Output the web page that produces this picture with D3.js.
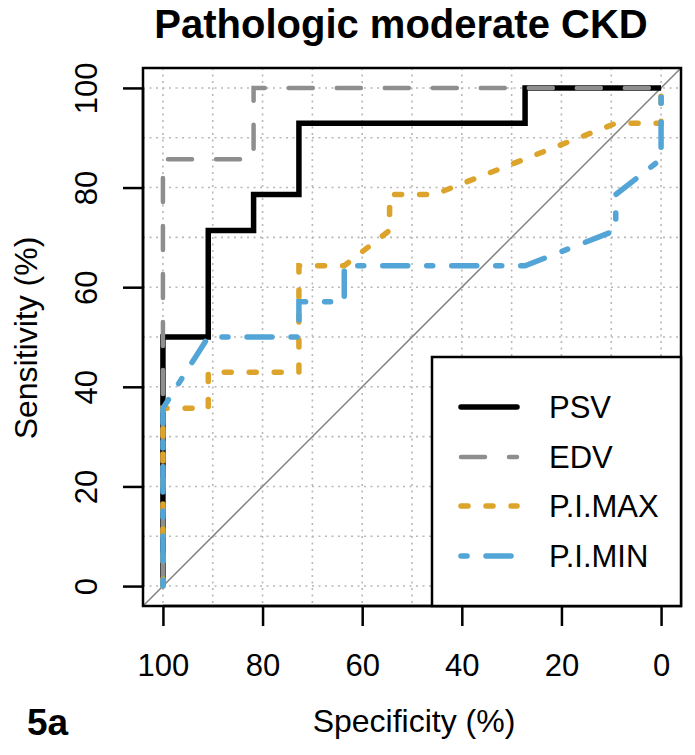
<!DOCTYPE html>
<html>
<head>
<meta charset="utf-8">
<script src="https://cdn.jsdelivr.net/npm/d3@7"></script>
<style>
  html, body { margin: 0; padding: 0; background: #fff; }
  svg { display: block; font-family: "Liberation Sans", Arial, Helvetica, sans-serif; }
</style>
</head>
<body>
<svg id="chart" width="695" height="755"></svg>
<script>
// ---- data (specificity %, sensitivity %) ----
const seriesNames = ["PSV", "EDV", "P.I.MAX", "P.I.MIN"];
const psv = [[100,0],[100,50],[90.9,50],[90.9,71.4],[81.8,71.4],[81.8,78.6],[72.7,78.6],[72.7,92.9],[27.3,92.9],[27.3,100],[0,100]];
const edv = [[100,0],[100,85.7],[81.8,85.7],[81.8,100],[0,100]];
const piMax = [[100,0],[100,35.7],[90.9,35.7],[90.9,42.9],[72.7,42.9],[72.7,64.3],[63.6,64.3],[54.5,71.4],[54.5,78.6],[45.5,78.6],[9.1,92.9],[0,92.9],[0,100]];
const piMin = [[100,0],[100,35.7],[90.9,50],[72.7,50],[72.7,57.1],[63.6,57.1],[63.6,64.3],[27.3,64.3],[9.1,71.4],[9.1,78.6],[0,85.7],[0,100]];
const xTicks = [100, 80, 60, 40, 20, 0];
const yTicks = [0, 20, 40, 60, 80, 100];
const gridValues = [0,10,20,30,40,50,60,70,80,90,100];

const styles = [
  {color: "#000000", width: 5.5, dash: null},
  {color: "#8e8e8e", width: 4.5, dash: "24,24"},
  {color: "#DCA42A", width: 5.5, dash: "7,18"},
  {color: "#52A5D6", width: 5.5, dash: "6,19,25,19"}
];
const allSeries = [psv, edv, piMax, piMin];

const svg = d3.select("#chart");
const L = 143, R = 681, T = 68, B = 606;
const x = d3.scaleLinear().domain([104, -4]).range([L, R]);
const y = d3.scaleLinear().domain([-4, 104]).range([B, T]);
const font = "'Liberation Sans', Arial, Helvetica, sans-serif";

svg.append("defs").append("clipPath").attr("id", "clip")
  .append("rect").attr("x", L).attr("y", T).attr("width", R - L).attr("height", B - T);

// grid
const g = svg.append("g");
g.selectAll("line.vg").data(gridValues).enter().append("line")
  .attr("x1", d => x(d)).attr("x2", d => x(d)).attr("y1", T).attr("y2", B)
  .attr("stroke", "#b8b8b8").attr("stroke-width", 1.6).attr("stroke-dasharray", "2,4.5");
g.selectAll("line.hg").data(gridValues).enter().append("line")
  .attr("x1", L).attr("x2", R).attr("y1", d => y(d)).attr("y2", d => y(d))
  .attr("stroke", "#b8b8b8").attr("stroke-width", 1.6).attr("stroke-dasharray", "2,4.5");

// identity diagonal
svg.append("line").attr("clip-path", "url(#clip)")
  .attr("x1", x(104)).attr("y1", y(-4)).attr("x2", x(-4)).attr("y2", y(104))
  .attr("stroke", "#808080").attr("stroke-width", 1.5);

// curves
const line = d3.line().x(d => x(d[0])).y(d => y(d[1]));
allSeries.forEach((s, i) => {
  const st = styles[i];
  const p = svg.append("path").datum(s).attr("d", line)
    .attr("fill", "none").attr("stroke", st.color).attr("stroke-width", st.width)
    .attr("stroke-linecap", st.dash ? "round" : "butt").attr("stroke-linejoin", "miter");
  if (st.dash) p.attr("stroke-dasharray", st.dash);
});

// box
svg.append("rect").attr("x", L).attr("y", T).attr("width", R - L).attr("height", B - T)
  .attr("fill", "none").attr("stroke", "#000").attr("stroke-width", 2.5);

// axes
const xAxis = d3.axisBottom(x).tickValues(xTicks).tickSize(20).tickFormat(d3.format("d"));
const xg = svg.append("g").attr("transform", `translate(0,${B})`).call(xAxis);
xg.select(".domain").attr("stroke-width", 2.5).attr("d", `M${x(100)},0H${x(0)}`);
xg.selectAll(".tick line").attr("stroke-width", 2.5);
xg.selectAll(".tick text").attr("font-size", 31).attr("font-family", font).attr("fill", "#000")
  .attr("y", 70).attr("dy", 0);

const yAxis = d3.axisLeft(y).tickValues(yTicks).tickSize(20).tickFormat(d3.format("d"));
const yg = svg.append("g").attr("transform", `translate(${L},0)`).call(yAxis);
yg.select(".domain").attr("stroke-width", 2.5).attr("d", `M0,${y(0)}V${y(100)}`);
yg.selectAll(".tick line").attr("stroke-width", 2.5);
yg.selectAll(".tick text").remove();
yg.selectAll(".tick").append("text")
  .attr("transform", `translate(${97 - L},0) rotate(-90)`)
  .attr("text-anchor", "middle").attr("font-size", 31).attr("font-family", font).attr("fill", "#000")
  .text(d => d);

// titles
svg.append("text").attr("x", 401).attr("y", 38).attr("text-anchor", "middle")
  .attr("font-size", 40).attr("font-weight", "bold").attr("font-family", font)
  .text("Pathologic moderate CKD");
svg.append("text").attr("x", 414).attr("y", 732).attr("text-anchor", "middle")
  .attr("font-size", 32).attr("font-family", font).text("Specificity (%)");
svg.append("text").attr("transform", "translate(37,338) rotate(-90)").attr("text-anchor", "middle")
  .attr("font-size", 32).attr("font-family", font).text("Sensitivity (%)");
svg.append("text").attr("x", 27).attr("y", 735)
  .attr("font-size", 37).attr("font-weight", "bold").attr("font-family", font).text("5a");

// legend
const lg = svg.append("g");
lg.append("rect").attr("x", 432).attr("y", 357).attr("width", R - 432).attr("height", B - 357)
  .attr("fill", "#fff").attr("stroke", "#000").attr("stroke-width", 2.5);
const rowY = [407, 457, 506, 556];
seriesNames.forEach((name, i) => {
  const st = styles[i];
  const l = lg.append("line").attr("x1", 461).attr("x2", 517).attr("y1", rowY[i]).attr("y2", rowY[i])
    .attr("stroke", st.color).attr("stroke-width", st.width).attr("stroke-linecap", "round");
  if (st.dash) l.attr("stroke-dasharray", st.dash);
  lg.append("text").attr("x", 549).attr("y", rowY[i] + 11).attr("font-size", 31)
    .attr("font-family", font).text(name);
});
</script>
</body>
</html>
